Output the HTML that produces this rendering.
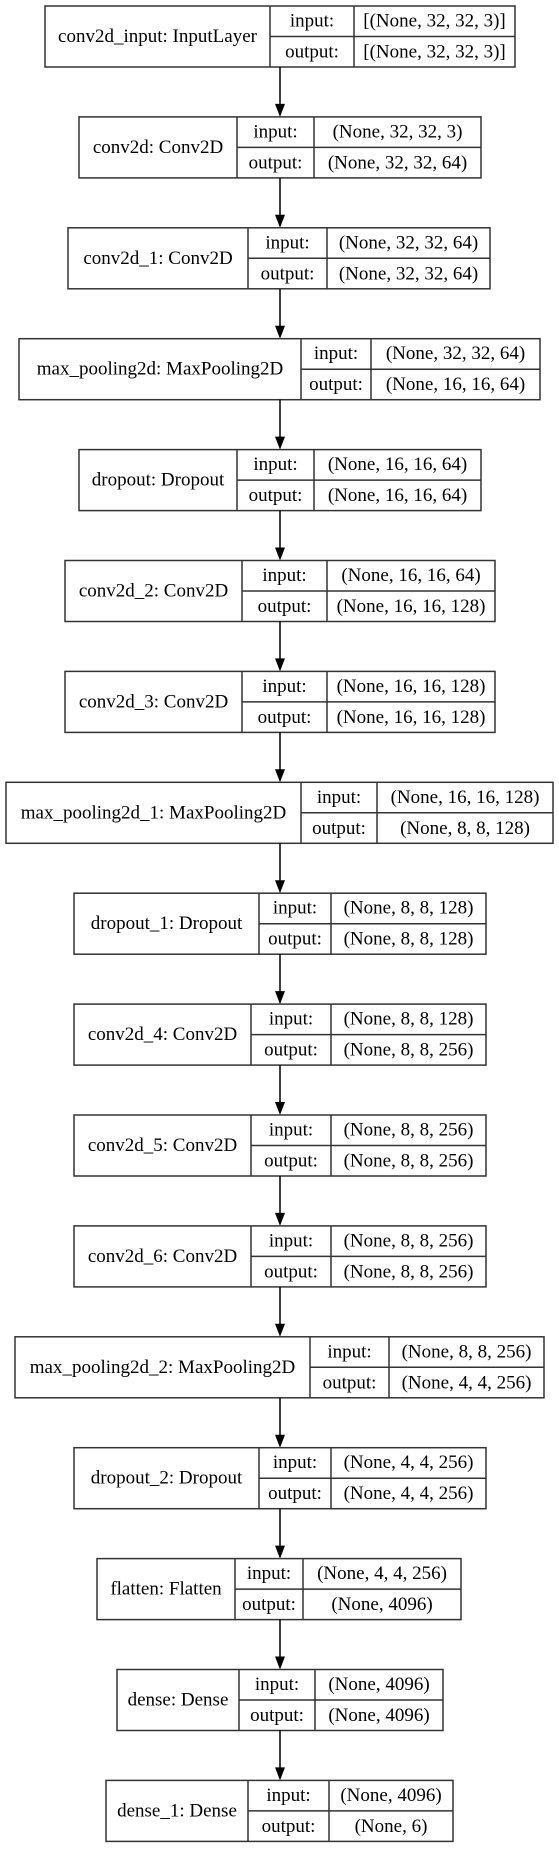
<!DOCTYPE html>
<html><head><meta charset="utf-8"><style>
html,body{margin:0;padding:0;background:#fff;}
svg text{font-family:"Liberation Serif",serif;font-size:19px;fill:#000;text-anchor:middle;dominant-baseline:central;}
</style></head><body>
<svg id="s" width="559" height="1844" viewBox="0 0 559 1844" xmlns="http://www.w3.org/2000/svg"></svg>
<script>
var B=[
[45,270,354,515,"conv2d_input: InputLayer","[(None, 32, 32, 3)]","[(None, 32, 32, 3)]"],
[79,237,314,481,"conv2d: Conv2D","(None, 32, 32, 3)","(None, 32, 32, 64)"],
[68,248,327,490,"conv2d_1: Conv2D","(None, 32, 32, 64)","(None, 32, 32, 64)"],
[19,301,371,540,"max_pooling2d: MaxPooling2D","(None, 32, 32, 64)","(None, 16, 16, 64)"],
[79,237,314,481,"dropout: Dropout","(None, 16, 16, 64)","(None, 16, 16, 64)"],
[65,242,327,495,"conv2d_2: Conv2D","(None, 16, 16, 64)","(None, 16, 16, 128)"],
[65,242,327,495,"conv2d_3: Conv2D","(None, 16, 16, 128)","(None, 16, 16, 128)"],
[6,301,377,553,"max_pooling2d_1: MaxPooling2D","(None, 16, 16, 128)","(None, 8, 8, 128)"],
[74,259,331,486,"dropout_1: Dropout","(None, 8, 8, 128)","(None, 8, 8, 128)"],
[74,251,331,486,"conv2d_4: Conv2D","(None, 8, 8, 128)","(None, 8, 8, 256)"],
[74,251,331,486,"conv2d_5: Conv2D","(None, 8, 8, 256)","(None, 8, 8, 256)"],
[74,251,331,486,"conv2d_6: Conv2D","(None, 8, 8, 256)","(None, 8, 8, 256)"],
[15,310,389,544,"max_pooling2d_2: MaxPooling2D","(None, 8, 8, 256)","(None, 4, 4, 256)"],
[74,259,331,486,"dropout_2: Dropout","(None, 4, 4, 256)","(None, 4, 4, 256)"],
[97,235,303,461,"flatten: Flatten","(None, 4, 4, 256)","(None, 4096)"],
[117,239,315,443,"dense: Dense","(None, 4096)","(None, 4096)"],
[106,248,329,453,"dense_1: Dense","(None, 4096)","(None, 6)"]];
var h='',H=61,P=110.9,cx=280;
B.forEach(function(b,i){
 var t=6+i*P,m=t+H/2;
 h+='<rect x="'+b[0]+'" y="'+t+'" width="'+(b[3]-b[0])+'" height="'+H+'" fill="none" stroke="#333" stroke-width="1.5"/>';
 h+='<line x1="'+b[1]+'" y1="'+t+'" x2="'+b[1]+'" y2="'+(t+H)+'" stroke="#333" stroke-width="1.5"/>';
 h+='<line x1="'+b[2]+'" y1="'+t+'" x2="'+b[2]+'" y2="'+(t+H)+'" stroke="#333" stroke-width="1.5"/>';
 h+='<line x1="'+b[1]+'" y1="'+m+'" x2="'+b[3]+'" y2="'+m+'" stroke="#333" stroke-width="1.5"/>';
 h+='<text x="'+(b[0]+b[1])/2+'" y="'+m+'">'+b[4]+'</text>';
 h+='<text x="'+(b[1]+b[2])/2+'" y="'+(t+15)+'">input:</text>';
 h+='<text x="'+(b[1]+b[2])/2+'" y="'+(t+46)+'">output:</text>';
 h+='<text x="'+(b[2]+b[3])/2+'" y="'+(t+15)+'">'+b[5]+'</text>';
 h+='<text x="'+(b[2]+b[3])/2+'" y="'+(t+46)+'">'+b[6]+'</text>';
 if(i<B.length-1){var y1=t+H,y2=6+(i+1)*P;
  h+='<line x1="'+cx+'" y1="'+y1+'" x2="'+cx+'" y2="'+(y2-12)+'" stroke="#000" stroke-width="1.5"/>';
  h+='<polygon points="'+(cx-5)+','+(y2-13)+' '+(cx+5)+','+(y2-13)+' '+cx+','+y2+'" fill="#000"/>';}
});
document.getElementById('s').innerHTML=h;
</script>
</body></html>
